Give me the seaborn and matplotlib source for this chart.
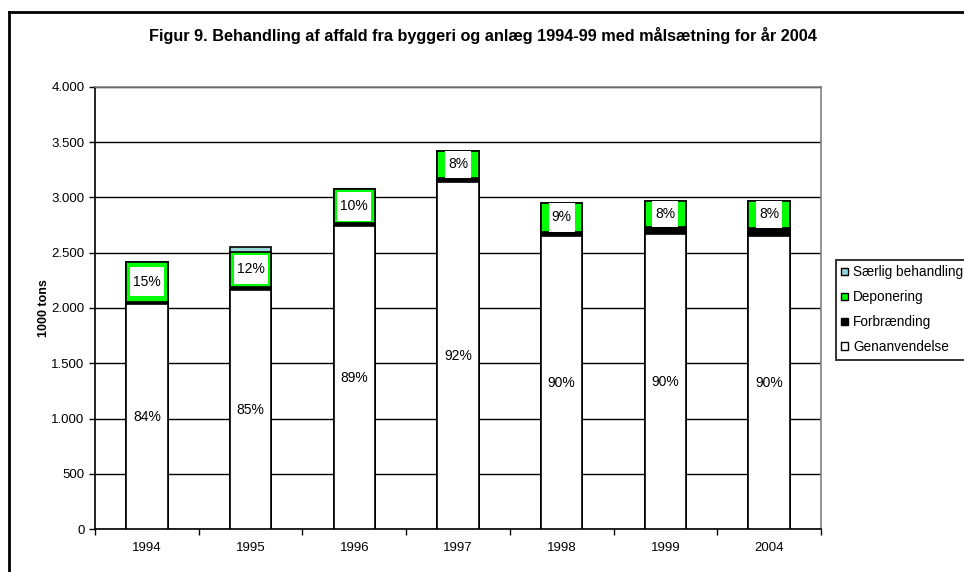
import matplotlib
matplotlib.use("Agg")
import matplotlib.pyplot as plt
import matplotlib.ticker as mticker
from matplotlib.lines import Line2D
from matplotlib.patches import Patch, Rectangle
import numpy as np
import pandas as pd
import seaborn as sns

# data (1000 tons)
years = ["1994", "1995", "1996", "1997", "1998", "1999", "2004"]
genanvendelse = [2035, 2165, 2740, 3140, 2650, 2668, 2650]
forbraending = [20, 25, 25, 35, 40, 67, 75]
deponering = [365, 320, 310, 245, 262, 235, 245]
saerlig = [0, 40, 0, 0, 0, 0, 0]
gen_labels = ["84%", "85%", "89%", "92%", "90%", "90%", "90%"]
dep_labels = ["15%", "12%", "10%", "8%", "9%", "8%", "8%"]

series_names = ["Særlig behandling", "Deponering", "Forbrænding", "Genanvendelse"]
colors = {"Særlig behandling": "#99d6d6", "Deponering": "#00ff00",
          "Forbrænding": "#000000", "Genanvendelse": "#ffffff"}

df = pd.DataFrame({"year": years, "gen": genanvendelse, "forb": forbraending,
                   "dep": deponering, "saer": saerlig})
df["c_gen"] = df["gen"]
df["c_forb"] = df["c_gen"] + df["forb"]
df["c_dep"] = df["c_forb"] + df["dep"]
df["c_saer"] = df["c_dep"] + df["saer"]

plt.rcParams["font.family"] = ["Liberation Sans", "DejaVu Sans"]

fig = plt.figure(figsize=(9.64, 5.72), dpi=100)
ax = fig.add_axes([95/964, (572-529.3)/572, (821-95)/964, (529.3-86.7)/572])

# stacked by overdrawing cumulative totals
for col, name in [("c_saer", "Særlig behandling"), ("c_dep", "Deponering"),
                  ("c_forb", "Forbrænding"), ("c_gen", "Genanvendelse")]:
    sns.barplot(data=df, x="year", y=col, color=colors[name], width=0.4,
                edgecolor="black", linewidth=1.2, saturation=1, ax=ax, zorder=3)

ax.set_ylim(0, 4000)
ax.set_xlim(-0.5, len(years) - 0.5)

fig.canvas.draw()
px_per_unit = ax.transData.transform((0, 1000))[1] - ax.transData.transform((0, 0))[1]
px_per_cat = ax.transData.transform((1, 0))[0] - ax.transData.transform((0, 0))[0]
px_per_unit /= 1000

for i in range(len(years)):
    ax.text(i, df["gen"][i] / 2, gen_labels[i], ha="center", va="center",
            fontsize=10, zorder=6)
    ymid = df["c_forb"][i] + df["dep"][i] / 2
    t = ax.text(i, ymid, dep_labels[i], ha="center", va="center", fontsize=10, zorder=6)
    # white label box like the Excel data label
    w = (t.get_window_extent(fig.canvas.get_renderer()).width + 6) / px_per_cat
    h = 29 / px_per_unit
    y0 = max(ymid - h / 2, df["c_forb"][i])
    y1 = min(ymid + h / 2, df["c_dep"][i])
    ax.add_patch(Rectangle((i - w / 2, y0), w, y1 - y0, facecolor="white",
                           edgecolor="none", zorder=5))

ax.yaxis.set_major_locator(mticker.MultipleLocator(500))
ax.yaxis.set_major_formatter(mticker.FuncFormatter(lambda v, p: f"{int(v):,}".replace(",", ".")))
ax.grid(axis="y", color="black", linewidth=1, zorder=0)
ax.set_axisbelow(True)
ax.set_xlabel("")
ax.set_ylabel("1000 tons", fontsize=9, fontweight="bold", labelpad=1)
ax.tick_params(axis="y", labelsize=9.5, length=4, width=1, color="black")
ax.tick_params(axis="x", which="major", labelsize=9.5, length=0, pad=9)
ax.set_xticks(np.arange(-0.5, len(years)), minor=True)
ax.tick_params(axis="x", which="minor", length=4, width=1, color="black")
ax.set_facecolor("white")
for s in ["left", "bottom"]:
    ax.spines[s].set_color("black")
    ax.spines[s].set_linewidth(1.2)
for s in ["top", "right"]:
    ax.spines[s].set_color("#808080")
    ax.spines[s].set_linewidth(1.2)

ax.set_title("Figur 9. Behandling af affald fra byggeri og anlæg 1994-99 med målsætning for år 2004",
             fontsize=11.7, fontweight="bold", pad=33)
ax.title.set_position((0.535, 1.0))

handles = [Patch(facecolor=colors[n], edgecolor="black", linewidth=1) for n in series_names]
leg = fig.legend(handles, series_names, loc="upper left", bbox_to_anchor=(836/964, 1 - 260/572),
                 fontsize=9.8, frameon=True, fancybox=False, edgecolor="black",
                 handlelength=0.5, handleheight=0.5, handletextpad=0.35,
                 borderpad=0.4, labelspacing=0.8, borderaxespad=0)
leg.get_frame().set_linewidth(1.4)

fig.add_artist(Line2D([9/964, 9/964], [0, 1 - 11.5/572], color="black", linewidth=2,
                      transform=fig.transFigure))
fig.add_artist(Line2D([9/964, 1], [1 - 11.5/572, 1 - 11.5/572], color="black", linewidth=2,
                      transform=fig.transFigure))

fig.savefig("out.png", dpi=100, facecolor="white")
